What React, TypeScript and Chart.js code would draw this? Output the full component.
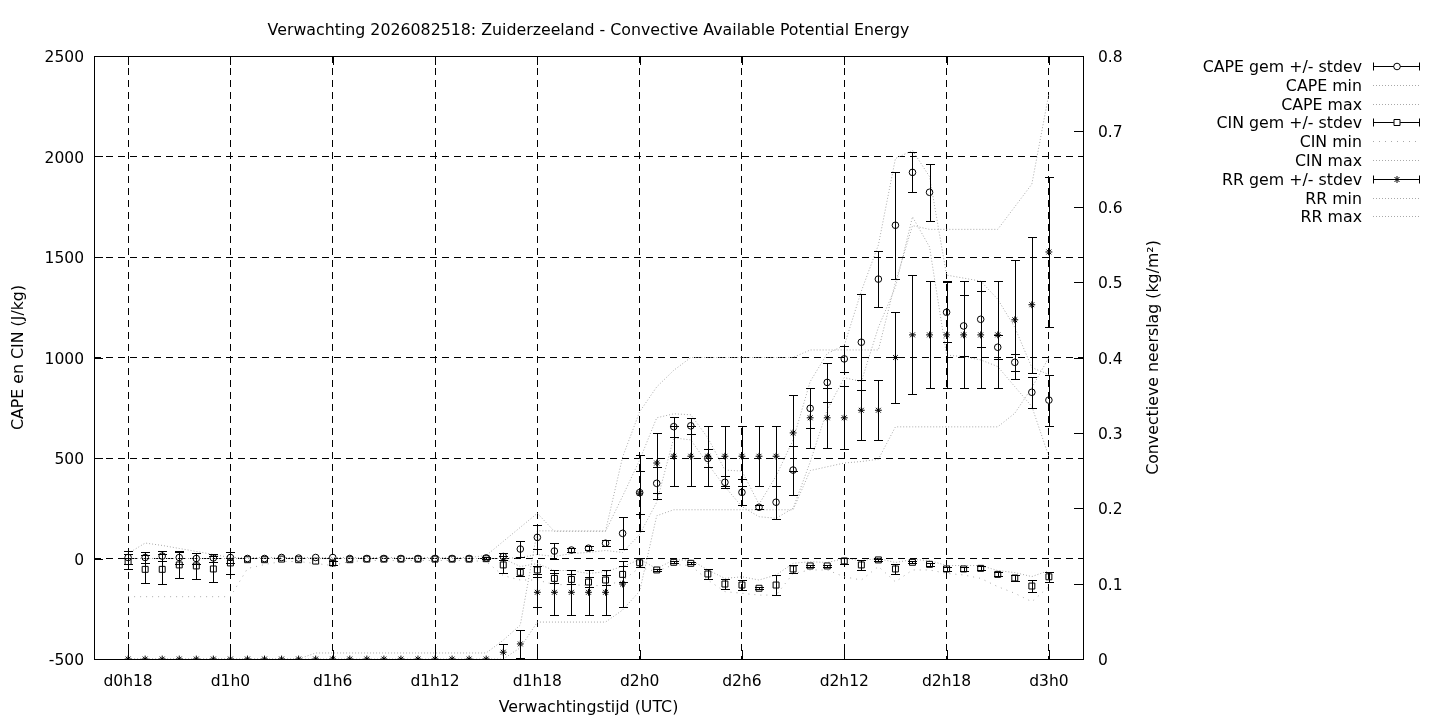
import { useEffect, useRef } from "react"
import { Chart, registerables } from "chart.js"

Chart.register(...registerables)

// forecast hours, d0h18 .. d3h0
const hours = [
  18, 19, 20, 21, 22, 23, 24, 25, 26, 27, 28, 29, 30, 31, 32, 33, 34, 35, 36,
  37, 38, 39, 40, 41, 42, 43, 44, 45, 46, 47, 48, 49, 50, 51, 52, 53, 54, 55,
  56, 57, 58, 59, 60, 61, 62, 63, 64, 65, 66, 67, 68, 69, 70, 71, 72,
]
const xTicks = [18, 24, 30, 36, 42, 48, 54, 60, 66, 72]

const capeMean = [
  5, 5, 12, 5, 0, 3, 5,
  0, 0, 5, 2, 5, 5, 0, 0, 0, 0, 0, 0, 0, 0,
  3, 10, 47, 105, 37, 42, 51, 76, 125,
  328, 374, 656, 660, 498, 379, 329, 255, 280,
  440, 747, 876, 993, 1076, 1390, 1658, 1921, 1822,
  1225, 1157, 1190, 1051, 976, 827, 788,
]
const capeSd = [
  30, 25, 25, 30, 25, 20, 25,
  0, 0, 0, 0, 0, 0, 0, 0, 0, 0, 0, 0, 0, 0,
  5, 15, 38, 60, 40, 10, 10, 15, 80,
  105, 80, 50, 40, 45, 30, 65, 10, 83,
  122, 100, 95, 66, 240, 140, 267, 100, 142,
  150, 152, 140, 60, 43, 76, 127,
]
const capeMin = [
  0, 0, 0, 0, 0, 0, 0,
  0, 0, 0, 0, 0, 0, 0, 0, 0, 0, 0, 0, 0, 0,
  0, 0, 5, 20, 10, 25, 30, 40, 30,
  120, 280, 600, 590, 470, 357, 258, 208, 200,
  250, 480, 740, 900, 880, 1150, 1350, 1700, 1550,
  1012, 1004, 988, 955, 855, 756, 506,
]
const capeMax = [
  25, 77, 65, 50, 35, 20, 5,
  5, 5, 5, 5, 5, 5, 5, 5, 5, 5, 5, 5, 5, 5,
  15, 85, 155, 225, 135, 135, 135, 135, 310,
  490, 700, 720, 715, 600, 440, 435, 270, 410,
  590, 880, 1020, 1060, 1330, 1560, 1990, 2030, 1900,
  1410, 1395, 1380, 1290, 1150, 950, 915,
]

const cinMean = [
  -15, -54, -54, -32, -37, -52, -22,
  -6, -6, -3, -6, -13, -22, -6, -3, -3, -3, -3, -3, -3, -3,
  -1, -32, -69, -57, -99, -104, -117, -107, -79,
  -21, -57, -19, -24, -77, -127, -132, -148, -132,
  -52, -37, -37, -12, -32, -7, -52, -19, -29,
  -52, -52, -49, -79, -97, -137, -91,
]
const cinSd = [
  35, 70, 75, 65, 65, 65, 55,
  0, 0, 0, 0, 0, 8, 0, 0, 0, 0, 0, 0, 0, 0,
  0, 42, 20, 20, 25, 25, 25, 25, 40,
  22, 5, 5, 5, 25, 27, 27, 5, 52,
  20, 5, 5, 15, 27, 5, 25, 5, 8,
  10, 10, 10, 10, 15, 32, 24,
]
const cinMin = [
  -190, -190, -190, -190, -190, -190, -190,
  -50, -30, -15, -15, -25, -35, -15, -10, -10, -10, -10, -10, -10, -10,
  -15, -85, -107, -107, -130, -130, -135, -135, -110,
  -45, -65, -30, -35, -107, -165, -173, -182, -182,
  -75, -57, -57, -91, -107, -40, -116, -57, -57,
  -74, -82, -99, -140, -173, -215, -140,
]
const cinMax = [
  0, 0, 0, 0, 0, 0, 0,
  0, 0, 0, 0, 0, 0, 0, 0, 0, 0, 0, 0, 0, 0,
  0, 0, -40, -25, -60, -60, -75, -65, -40,
  -5, -50, -7, -7, -57, -99, -91, -107, -82,
  -24, -16, -20, 0, -10, 0, -20, -5, -10,
  -35, -35, -35, -60, -70, -90, -60,
]

const rrMean = [
  0, 0, 0, 0, 0, 0, 0,
  0, 0, 0, 0, 0, 0, 0, 0, 0, 0, 0, 0, 0, 0,
  0, 0.009, 0.02, 0.0885, 0.0885, 0.0885, 0.0885, 0.0885, 0.0995,
  0.22, 0.26, 0.269, 0.269, 0.269, 0.269, 0.269, 0.269, 0.269,
  0.3, 0.32, 0.32, 0.32, 0.33, 0.33, 0.4, 0.43, 0.43,
  0.43, 0.43, 0.43, 0.43, 0.45, 0.47, 0.54,
]
const rrSd = [
  0, 0, 0, 0, 0, 0, 0,
  0, 0, 0, 0, 0, 0, 0, 0, 0, 0, 0, 0, 0, 0,
  0, 0.011, 0.019, 0.02, 0.03, 0.03, 0.03, 0.03, 0.03,
  0.05, 0.04, 0.04, 0.04, 0.04, 0.04, 0.04, 0.04, 0.04,
  0.05, 0.04, 0.04, 0.042, 0.04, 0.04, 0.06, 0.079, 0.071,
  0.071, 0.071, 0.071, 0.071, 0.079, 0.09, 0.1,
]
const rrMin = [
  0, 0, 0, 0, 0, 0, 0,
  0, 0, 0, 0, 0, 0, 0, 0, 0, 0, 0, 0, 0, 0,
  0, 0, 0.015, 0.049, 0.049, 0.049, 0.049, 0.049, 0.065,
  0.09, 0.19, 0.198, 0.198, 0.198, 0.198, 0.198, 0.198, 0.198,
  0.198, 0.25, 0.255, 0.26, 0.262, 0.265, 0.308, 0.308, 0.308,
  0.308, 0.308, 0.308, 0.308, 0.326, 0.36, 0.4,
]
const rrMax = [
  0, 0, 0, 0, 0, 0, 0,
  0, 0, 0, 0, 0.008, 0.008, 0.008, 0.008, 0.008, 0.008, 0.008, 0.008, 0.008, 0.008,
  0.008, 0.025, 0.045, 0.17, 0.17, 0.17, 0.17, 0.17, 0.268,
  0.328, 0.361, 0.383, 0.4, 0.4, 0.4, 0.4, 0.4, 0.4,
  0.4, 0.41, 0.41, 0.41, 0.41, 0.41, 0.5, 0.575, 0.57,
  0.57, 0.57, 0.57, 0.57, 0.6, 0.63, 0.75,
]

const title = "Verwachting 2026082518: Zuiderzeeland - Convective Available Potential Energy"
const xTitle = "Verwachtingstijd (UTC)"
const yTitle = "CAPE en CIN (J/kg)"
const y2Title = "Convectieve neerslag (kg/m²)"

const gray = "#a9a9a9"
const dotted = [1, 2]
const sparse = [1, 5]
const font = "15.8px 'DejaVu Sans', sans-serif"

const xLabel = (h: number) => `d${Math.floor(h / 24)}h${h % 24}`
const points = (values: number[]) => hours.map((h, i) => ({ x: h, y: values[i] }))

// which datasets get error bars
const errorSets = [
  { index: 0, sd: capeSd, axis: "y" },
  { index: 3, sd: cinSd, axis: "y" },
  { index: 6, sd: rrSd, axis: "y2" },
]

function drawMarker(ctx: CanvasRenderingContext2D, style: string, x: number, y: number) {
  ctx.beginPath()
  if (style === "circle") {
    ctx.arc(x, y, 3.3, 0, Math.PI * 2)
  } else if (style === "rect") {
    ctx.rect(x - 3, y - 3, 6, 6)
  } else {
    const r = 3.5
    ctx.moveTo(x - r, y); ctx.lineTo(x + r, y)
    ctx.moveTo(x, y - r); ctx.lineTo(x, y + r)
    const d = r * Math.SQRT1_2
    ctx.moveTo(x - d, y - d); ctx.lineTo(x + d, y + d)
    ctx.moveTo(x - d, y + d); ctx.lineTo(x + d, y - d)
  }
  ctx.stroke()
}

const errorBarPlugin = {
  id: "errorBars",
  afterDatasetsDraw(chart: any) {
    const { ctx, chartArea } = chart
    const cap = 4.5
    ctx.save()
    ctx.beginPath()
    ctx.rect(chartArea.left, chartArea.top, chartArea.right - chartArea.left, chartArea.bottom - chartArea.top)
    ctx.clip()
    ctx.strokeStyle = "#000"
    ctx.lineWidth = 1
    errorSets.forEach((set) => {
      const ds = chart.data.datasets[set.index]
      const xs = chart.scales.x
      const ys = chart.scales[set.axis]
      ds.data.forEach((p: any, i: number) => {
        const sd = set.sd[i]
        if (!sd) return
        const x = Math.round(xs.getPixelForValue(p.x)) + 0.5
        const y1 = Math.round(ys.getPixelForValue(p.y + sd)) + 0.5
        const y2 = Math.round(ys.getPixelForValue(p.y - sd)) + 0.5
        ctx.beginPath()
        ctx.moveTo(x, y1); ctx.lineTo(x, y2)
        ctx.moveTo(x - cap, y1); ctx.lineTo(x + cap, y1)
        ctx.moveTo(x - cap, y2); ctx.lineTo(x + cap, y2)
        ctx.stroke()
      })
    })
    ctx.restore()
  },
}

const framePlugin = {
  id: "frame",
  afterDraw(chart: any) {
    const { ctx, chartArea: a, scales } = chart
    const tick = 9
    ctx.save()
    ctx.strokeStyle = "#000"
    ctx.lineWidth = 1
    ctx.setLineDash([])
    ctx.strokeRect(Math.round(a.left) + 0.5, Math.round(a.top) + 0.5, Math.round(a.right - a.left), Math.round(a.bottom - a.top))
    ctx.beginPath()
    scales.y.ticks.forEach((t: any) => {
      const y = Math.round(scales.y.getPixelForValue(t.value)) + 0.5
      ctx.moveTo(a.left, y); ctx.lineTo(a.left + tick, y)
    })
    scales.y2.ticks.forEach((t: any) => {
      const y = Math.round(scales.y2.getPixelForValue(t.value)) + 0.5
      ctx.moveTo(a.right, y); ctx.lineTo(a.right - tick, y)
    })
    scales.x.ticks.forEach((t: any) => {
      const x = Math.round(scales.x.getPixelForValue(t.value)) + 0.5
      ctx.moveTo(x, a.bottom); ctx.lineTo(x, a.bottom - tick)
      ctx.moveTo(x, a.top); ctx.lineTo(x, a.top + tick)
    })
    ctx.stroke()

    // titles
    ctx.fillStyle = "#000"
    ctx.font = font
    ctx.textAlign = "center"
    ctx.textBaseline = "middle"
    const cx = (a.left + a.right) / 2
    const cy = (a.top + a.bottom) / 2
    ctx.fillText(title, cx, 30.5)
    ctx.fillText(xTitle, cx, 708)
    ctx.save()
    ctx.translate(19, cy)
    ctx.rotate(-Math.PI / 2)
    ctx.fillText(yTitle, 0, 0)
    ctx.restore()
    ctx.save()
    ctx.translate(1154, cy)
    ctx.rotate(-Math.PI / 2)
    ctx.fillText(y2Title, 0, 0)
    ctx.restore()

    // legend
    const x0 = 1373
    const x1 = 1420
    chart.data.datasets.forEach((ds: any, i: number) => {
      const y = Math.round(66 + i * 18.8) + 0.5
      ctx.textAlign = "right"
      ctx.fillStyle = "#000"
      ctx.fillText(ds.label, 1362, y + 1.5)
      ctx.beginPath()
      if (ds.showLine === false) {
        ctx.strokeStyle = "#000"
        ctx.setLineDash([])
        ctx.moveTo(x0, y); ctx.lineTo(x1, y)
        ctx.moveTo(x0 + 0.5, y - 4); ctx.lineTo(x0 + 0.5, y + 4)
        ctx.moveTo(x1 - 0.5, y - 4); ctx.lineTo(x1 - 0.5, y + 4)
        ctx.stroke()
        ctx.fillStyle = "#fff"
        ctx.beginPath()
        ctx.arc(x0 + 24, y, 3.2, 0, Math.PI * 2)
        if (ds.pointStyle !== "star") ctx.fill()
        drawMarker(ctx, ds.pointStyle, x0 + 24, y)
      } else {
        ctx.strokeStyle = gray
        ctx.setLineDash(ds.borderDash)
        ctx.moveTo(x0, y); ctx.lineTo(x1, y)
        ctx.stroke()
      }
    })
    ctx.restore()
  },
}

function markerSet(label: string, values: number[], style: string, axis: string, radius: number) {
  return {
    label,
    data: points(values),
    yAxisID: axis,
    showLine: false,
    pointStyle: style,
    pointRadius: radius,
    pointHoverRadius: radius,
    pointBorderColor: "#000",
    pointBackgroundColor: "rgba(0,0,0,0)",
    pointBorderWidth: 1,
  }
}

function rangeLine(label: string, values: number[], axis: string, dash: number[]) {
  return {
    label,
    data: points(values),
    yAxisID: axis,
    borderColor: gray,
    borderWidth: 1,
    borderDash: dash,
    pointRadius: 0,
    tension: 0,
    fill: false,
  }
}

export default function App() {
  const chartRef = useRef<HTMLCanvasElement>(null)

  useEffect(() => {
    if (!chartRef.current) return
    Chart.defaults.font.family = "'DejaVu Sans', sans-serif"
    Chart.defaults.font.size = 15.5
    Chart.defaults.color = "#000"

    const chart = new Chart(chartRef.current, {
      type: "line",
      data: {
        datasets: [
          markerSet("CAPE gem +/- stdev", capeMean, "circle", "y", 3.3),
          rangeLine("CAPE min", capeMin, "y", dotted),
          rangeLine("CAPE max", capeMax, "y", dotted),
          markerSet("CIN gem +/- stdev", cinMean, "rect", "y", 4.2),
          rangeLine("CIN min", cinMin, "y", sparse),
          rangeLine("CIN max", cinMax, "y", dotted),
          markerSet("RR gem +/- stdev", rrMean, "star", "y2", 3.4),
          rangeLine("RR min", rrMin, "y2", dotted),
          rangeLine("RR max", rrMax, "y2", dotted),
        ] as any,
      },
      options: {
        animation: false,
        responsive: true,
        maintainAspectRatio: false,
        layout: { padding: { top: 56, right: 275, bottom: 0, left: 0 } },
        plugins: {
          legend: { display: false },
          tooltip: { enabled: false },
          title: { display: false },
        },
        scales: {
          x: {
            type: "linear",
            min: 16,
            max: 74,
            afterBuildTicks: (scale: any) => {
              scale.ticks = xTicks.map((v) => ({ value: v }))
            },
            afterFit: (scale: any) => {
              scale.height = 61
            },
            ticks: {
              autoSkip: false,
              maxRotation: 0,
              padding: 14,
              callback: (v: any) => xLabel(Number(v)),
            },
            grid: { color: "#000", lineWidth: 1, drawTicks: false },
            border: { display: false, dash: [7, 5] },
          },
          y: {
            type: "linear",
            position: "left",
            min: -500,
            max: 2500,
            afterFit: (scale: any) => {
              scale.width = 94
            },
            ticks: { stepSize: 500, padding: 10, labelOffset: 2, callback: (v: any) => String(v) },
            grid: { color: "#000", lineWidth: 1, drawTicks: false },
            border: { display: false, dash: [7, 5] },
          },
          y2: {
            type: "linear",
            position: "right",
            min: 0,
            max: 0.8,
            afterFit: (scale: any) => {
              scale.width = 82
            },
            ticks: { stepSize: 0.1, padding: 15, labelOffset: 2, callback: (v: any) => String(Math.round(Number(v) * 10) / 10) },
            grid: { display: false, drawTicks: false },
            border: { display: false },
          },
        },
      },
      plugins: [errorBarPlugin, framePlugin],
    })

    return () => {
      chart.destroy()
    }
  }, [])

  return (
    <div style={{ position: "fixed", left: 0, top: 0, width: 1440, height: 720, background: "#fff" }}>
      <canvas ref={chartRef} />
    </div>
  )
}
